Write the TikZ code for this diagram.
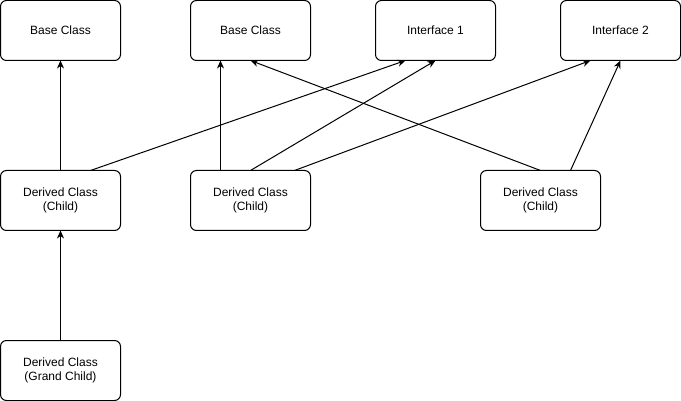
\documentclass[tikz,border=0pt]{standalone}
\usepackage{fontspec}
\setmainfont{Liberation Sans}
\usetikzlibrary{arrows.meta,positioning}

\begin{document}
\begin{tikzpicture}[x=1pt,y=1pt,node distance=110pt and 70pt,
    every node/.style={font=\fontsize{12}{14}\selectfont},
    cls/.style={draw,rounded corners=6pt,minimum width=120pt,minimum height=60pt,
                align=center,line width=1pt,inner sep=0pt,outer sep=0pt},
    inh/.style={-{Stealth[length=8pt,width=7pt,inset=2.5pt]},line width=1pt}]
  \useasboundingbox (0,0) rectangle (681,-401);
  \node[cls] at (60.5,-30.5) (base1) {Base Class};
  \node[cls,right=70pt of base1] (base2) {Base Class};
  \node[cls,right=65pt of base2] (iface1) {Interface 1};
  \node[cls,right=65pt of iface1] (iface2) {Interface 2};
  \node[cls,below=of base1] (child1) {Derived Class\\(Child)};
  \node[cls,below=of base2] (child2) {Derived Class\\(Child)};
  \node[cls,right=170pt of child2] (child3) {Derived Class\\(Child)};
  \node[cls,below=of child1] (grand) {Derived Class\\(Grand Child)};
  % inheritance
  \draw[inh] (child1.north) -- (base1.south);
  \draw[inh] ([xshift=30pt]child1.north) -- ([xshift=-30pt]iface1.south);
  \draw[inh] ([xshift=-30pt]child2.north) -- ([xshift=-30pt]base2.south);
  \draw[inh] (child2.north) -- (iface1.south);
  \draw[inh] ([xshift=44pt]child2.north) -- ([xshift=-30pt]iface2.south);
  \draw[inh] (child3.north) -- (base2.south);
  \draw[inh] ([xshift=30pt]child3.north) -- (iface2.south);
  \draw[inh] (grand.north) -- (child1.south);
\end{tikzpicture}
\end{document}
